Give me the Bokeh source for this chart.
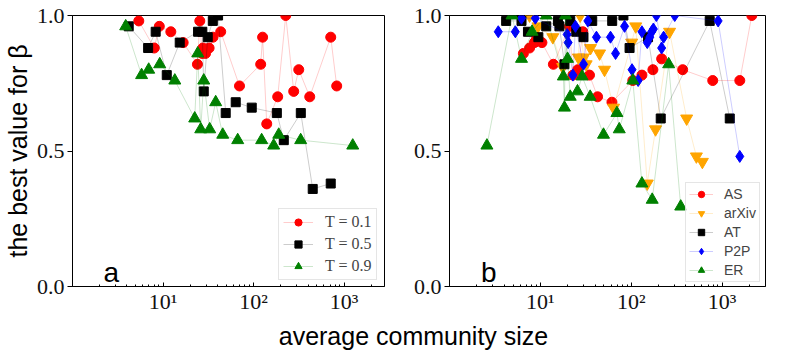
from bokeh.plotting import figure
from bokeh.models import (Range1d, FixedTicker, Legend, LegendItem, Label,
                          PrintfTickFormatter, CustomJSTickFormatter)
from bokeh.layouts import row, column
from bokeh.embed import file_html
from bokeh.resources import INLINE

# ---------------- data: panel a ----------------
t01_x = [5.4, 8.0, 9.1, 12.2, 16.7, 24, 25.5, 27.0, 27.6, 29.5, 32.3, 35.7, 43.4, 70, 120, 126, 140, 185, 227, 278, 316, 418, 713, 830]
t01_y = [0.98, 0.88, 0.96, 0.94, 0.90, 0.82, 0.98, 0.86, 0.88, 0.86, 0.88, 0.92, 0.94, 0.74, 0.82, 0.92, 0.60, 0.70, 1.00, 0.72, 0.80, 0.70, 0.92, 0.74]

t05_x = [4.18, 6.85, 8.3, 11.0, 15.3, 24.4, 27.2, 28.2, 31.2, 35.5, 40.6, 49.3, 63.6, 95.6, 181, 216, 333, 451, 713]
t05_y = [0.96, 0.88, 0.94, 0.78, 0.90, 0.94, 0.94, 0.72, 0.92, 0.98, 1.00, 0.64, 0.68, 0.66, 0.64, 0.54, 0.64, 0.36, 0.38]

t09_x = [3.87, 5.8, 6.95, 9.2, 13.5, 22.4, 24.2, 26.1, 28.2, 32.8, 38.2, 45.7, 66.9, 123, 167, 190, 332, 1248]
t09_y = [0.96, 0.78, 0.80, 0.82, 0.76, 0.62, 0.86, 0.58, 0.76, 0.58, 0.68, 0.56, 0.54, 0.54, 0.52, 0.56, 0.54, 0.52]

# ---------------- data: panel b ----------------
as_x = [6.5, 7.6, 8.6, 9.0, 10.4, 13.9, 20.9, 22.8, 25.8, 29.3, 34.7, 42.6, 61.3, 104, 131, 173, 216, 368, 788, 1564, 2120]
as_y = [0.86, 0.88, 0.90, 0.91, 0.90, 0.82, 0.96, 0.78, 0.80, 0.94, 0.78, 0.70, 0.68, 0.76, 0.78, 0.80, 0.84, 0.80, 0.76, 0.76, 1.00]

arxiv_x = [7.6, 9.4, 13.7, 17.6, 26.2, 27.4, 29.8, 31.9, 35.6, 44.8, 50.8, 63.8, 101, 112, 150, 185, 264, 407, 521, 606]
arxiv_y = [1.00, 0.96, 0.92, 0.81, 0.845, 1.00, 0.845, 0.82, 0.88, 0.86, 0.80, 0.66, 0.90, 0.96, 0.38, 0.58, 0.94, 0.62, 0.48, 0.46]

at_x = [4.2, 6.2, 7.3, 9.5, 11.6, 15.6, 16.2, 18.4, 21.3, 24.8, 29.8, 37.2, 61.7, 82, 95.8, 153, 211, 730, 1213]
at_y = [0.98, 0.98, 0.94, 0.92, 0.96, 0.98, 0.96, 0.82, 0.98, 0.94, 0.92, 0.98, 0.98, 1.00, 0.88, 0.92, 0.62, 0.98, 0.62]

p2p_x = [3.44, 5.3, 6.2, 8.8, 19.7, 20.2, 22.8, 24.3, 29.8, 33.3, 41.4, 59.1, 67.2, 84.4, 102, 119, 131, 150, 160, 168, 175, 189, 216, 227, 301, 903, 1563]
p2p_y = [0.94, 0.94, 0.99, 0.99, 0.93, 0.90, 0.78, 0.96, 0.82, 0.98, 0.92, 0.92, 0.86, 0.96, 0.80, 0.76, 0.94, 0.90, 0.92, 0.94, 0.95, 1.00, 0.88, 0.92, 1.00, 0.98, 0.48]

er_x = [2.58, 4.87, 6.2, 8.1, 11.6, 17.9, 18.4, 18.9, 19.9, 21.3, 25.6, 28.8, 35.3, 49.5, 69.5, 73.8, 104, 131, 170, 258, 350]
er_y = [0.52, 1.00, 0.84, 0.94, 1.00, 0.775, 0.66, 1.00, 0.84, 0.70, 0.72, 0.775, 0.70, 0.56, 0.64, 0.58, 0.76, 0.38, 0.32, 0.82, 0.295]

x_major_ticks = [10, 100, 1000]
y_ticks = [0.0, 0.5, 1.0]
legend_a = ["T = 0.1", "T = 0.5", "T = 0.9"]
legend_b = ["AS", "arXiv", "AT", "P2P", "ER"]

SERIF = "Liberation Serif"
SANS = "Liberation Sans"


def minor_list(xmax):
    out = []
    for e in range(0, 4):
        for m in range(2, 10):
            v = m * 10 ** e
            if v < xmax:
                out.append(v)
    return out


def make_panel(xmax, fw, ml, mr, ylabel):
    p = figure(x_axis_type="log", x_range=Range1d(1, xmax), y_range=Range1d(0, 1),
               frame_width=fw, frame_height=271, min_border_left=ml, min_border_right=mr,
               min_border_top=15, min_border_bottom=32,
               output_backend="svg", toolbar_location=None)
    p.grid.visible = False
    p.outline_line_color = "black"
    p.outline_line_alpha = 1.0
    p.outline_line_width = 1
    p.background_fill_color = "white"
    p.border_fill_color = "white"

    xa = p.xaxis[0]
    xa.ticker = FixedTicker(ticks=x_major_ticks, minor_ticks=minor_list(xmax))
    xa.formatter = CustomJSTickFormatter(code="""
        const e = Math.round(Math.log10(tick));
        const sup = ['\u2070','\u00b9','\u00b2','\u00b3','\u2074'];
        return '10' + sup[e];
    """)
    xa.major_tick_in = 4
    xa.major_tick_out = 0
    xa.minor_tick_in = 2
    xa.minor_tick_out = 0
    xa.major_label_standoff = 2
    xa.major_label_text_font = SERIF
    xa.major_label_text_font_size = "22px"
    xa.major_label_text_color = "#111111"
    xa.axis_line_color = "black"

    ya = p.yaxis[0]
    ya.ticker = FixedTicker(ticks=y_ticks)
    ya.formatter = PrintfTickFormatter(format="%.1f")
    ya.major_tick_in = 0
    ya.major_tick_out = 5
    ya.minor_tick_line_color = None
    ya.major_label_standoff = 3
    ya.major_label_text_font = SERIF
    ya.major_label_text_font_size = "22px"
    ya.major_label_text_color = "#111111"
    ya.axis_line_color = "black"
    if ylabel:
        ya.axis_label = ylabel
        ya.axis_label_text_font = SANS
        ya.axis_label_text_font_size = "25px"
        ya.axis_label_text_font_style = "normal"
        ya.axis_label_text_color = "black"
        ya.axis_label_standoff = 2
    return p


def add_series(p, xs, ys, color, marker, size):
    lr = p.line(xs, ys, line_color=color, line_alpha=0.2, line_width=1)
    sr = p.scatter(xs, ys, marker=marker, size=size, fill_color=color,
                   line_color=color, line_width=1)
    return [lr, sr]


# ---------------- panel a ----------------
p1 = make_panel(2800, 312, 68, 25, "the best value for \u03b2")
ra = [
    add_series(p1, t01_x, t01_y, "red", "circle", 10),
    add_series(p1, t05_x, t05_y, "black", "square", 9),
    add_series(p1, t09_x, t09_y, "green", "triangle", 12),
]
leg1 = Legend(items=[LegendItem(label=lab, renderers=r) for lab, r in zip(legend_a, ra)],
              location=(206, 6), padding=4, spacing=4, glyph_width=30, glyph_height=18,
              label_height=18, label_standoff=12, margin=0,
              label_text_font=SERIF, label_text_font_size="16px",
              border_line_color="#cccccc", border_line_width=1,
              background_fill_color="white", background_fill_alpha=0.8)
p1.add_layout(leg1)
p1.add_layout(Label(x=2.2, y=0.052, text="a", text_font=SANS, text_font_size="28px",
                    text_baseline="alphabetic", text_color="black"))

# ---------------- panel b ----------------
p2 = make_panel(3000, 316, 40, 10, None)
rb = [
    add_series(p2, as_x, as_y, "red", "circle", 10),
    add_series(p2, arxiv_x, arxiv_y, "orange", "inverted_triangle", 12),
    add_series(p2, at_x, at_y, "black", "square", 9),
    add_series(p2, p2p_x, p2p_y, "blue", "diamond", 12),
    add_series(p2, er_x, er_y, "green", "triangle", 12),
]
leg2 = Legend(items=[LegendItem(label=lab, renderers=r) for lab, r in zip(legend_b, rb)],
              location=(236, 4), padding=3, spacing=3, glyph_width=24, glyph_height=16,
              label_height=16, label_standoff=11, margin=0,
              label_text_font=SANS, label_text_font_size="14px",
              border_line_color="#cccccc", border_line_width=1,
              background_fill_color="white", background_fill_alpha=0.8)
p2.add_layout(leg2)
p2.add_layout(Label(x=2.22, y=0.052, text="b", text_font=SANS, text_font_size="28px",
                    text_baseline="alphabetic", text_color="black"))

# ---------------- shared x label ----------------
p3 = figure(x_axis_type=None, y_axis_type=None, x_range=Range1d(0, 771), y_range=Range1d(0, 37),
            frame_width=771, frame_height=37, min_border=0,
            output_backend="svg", toolbar_location=None)
p3.grid.visible = False
p3.outline_line_color = None
p3.add_layout(Label(x=413, y=20, text="average community size", text_font=SANS,
                    text_font_size="25px", text_align="center", text_baseline="alphabetic",
                    text_color="black"))

layout = column(row(p1, p2, spacing=0), p3, spacing=0)
open("out.html", "w").write(file_html(layout, INLINE))
